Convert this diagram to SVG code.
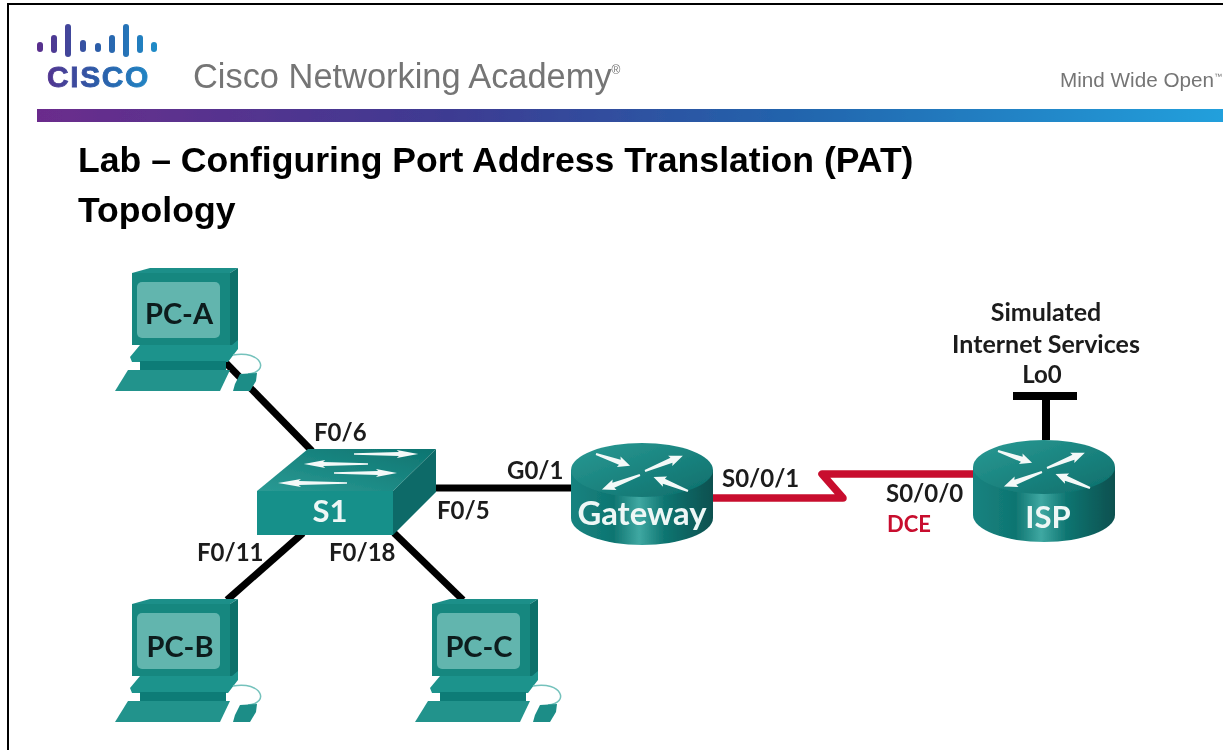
<svg xmlns="http://www.w3.org/2000/svg" xmlns:xlink="http://www.w3.org/1999/xlink" width="1223" height="750" viewBox="0 0 1223 750">
<style>
.hdr{font-family:"Liberation Sans",Arial,sans-serif;fill:#757575}
.title{font-family:"Liberation Sans",Arial,sans-serif;font-weight:700;fill:#000;font-size:35.6px}
.lbl{font-family:Lato,"Open Sans",sans-serif;font-weight:700;font-size:24px;fill:#1a1a1a}
.lbl2{font-size:25px}
.big{font-family:Lato,"Open Sans",sans-serif;font-weight:700;font-size:29px;text-anchor:middle}
.wht{fill:#eef7f6}
.blk{fill:#0a1a1b}
.wire{stroke:#000;stroke-width:7;fill:none}
.bar{fill:url(#logoG)}
</style>
<defs>
<filter id="soft" filterUnits="userSpaceOnUse" x="0" y="0" width="1223" height="750"><feGaussianBlur stdDeviation="0.55"/></filter>
<linearGradient id="band" x1="0" x2="1" y1="0" y2="0">
<stop offset="0" stop-color="#6b2c8c"/><stop offset=".35" stop-color="#3d3b92"/><stop offset=".65" stop-color="#2166ae"/><stop offset="1" stop-color="#22a0dc"/>
</linearGradient>
<linearGradient id="logoG" gradientUnits="userSpaceOnUse" x1="37" x2="157" y1="0" y2="0">
<stop offset="0" stop-color="#5a2d8c"/><stop offset=".5" stop-color="#2c5ca8"/><stop offset="1" stop-color="#1f8cc8"/>
</linearGradient>
<linearGradient id="rBody" x1="0" x2="1" y1="0" y2="0">
<stop offset="0" stop-color="#168380"/><stop offset=".3" stop-color="#0f7571"/><stop offset=".48" stop-color="#3fa8a2"/><stop offset=".66" stop-color="#0f7571"/><stop offset="1" stop-color="#08504f"/>
</linearGradient>
<linearGradient id="rTop" x1="0" x2="1" y1="0" y2="1">
<stop offset="0" stop-color="#2a9a94"/><stop offset="1" stop-color="#0c6e6b"/>
</linearGradient>
<linearGradient id="sTop" x1="0" x2="1" y1="1" y2="0">
<stop offset="0" stop-color="#2a9a94"/><stop offset="1" stop-color="#0c7470"/>
</linearGradient>
<path id="arrow" d="M0 -1.2L42 -3.2L40 -6.5L60 0L40 6.5L42 3.2L0 1.2Z" fill="#f4f9f8"/>
<g id="pc">
<path d="M132 273L150 268H238L230 273Z" fill="#1d8f89"/>
<path d="M230 273L238 268V342L230 348Z" fill="#0c6f6b"/>
<rect x="132" y="273" width="98" height="72" fill="#17877f"/>
<rect x="137" y="282" width="83" height="56" rx="5" fill="#62b5ae"/>
<path d="M140 345H232L238 340V349L228 362H132L130 357Z" fill="#1f938c"/>
<rect x="140" y="361" width="86" height="10" fill="#117c77"/>
<path d="M128 370H230L220 391H115Z" fill="#21938c"/>
<path d="M233 355C262 350 270 372 248 374" fill="none" stroke="#74c2bc" stroke-width="1.5"/>
<path d="M240 374L257 373L256 381L250 391L233 391L235 384Z" fill="#1b8d87"/>
</g>
<g id="router">
<path d="M0 27V75A71 27 0 0 0 142 75V27Z" fill="url(#rBody)"/>
<ellipse cx="71" cy="27" rx="71" ry="27" fill="url(#rTop)"/>
<use href="#arrow" xlink:href="#arrow" transform="translate(25 11) rotate(19) scale(.6 .85)"/>
<use href="#arrow" xlink:href="#arrow" transform="translate(74 28) rotate(-22) scale(.68 .85)"/>
<use href="#arrow" xlink:href="#arrow" transform="translate(69 32) rotate(159) scale(.68 .85)"/>
<use href="#arrow" xlink:href="#arrow" transform="translate(117 48) rotate(-158) scale(.62 .85)"/>
</g>
</defs>
<g filter="url(#soft)">
<g id="frame"><path d="M8 750V4H1223" fill="none" stroke="#000" stroke-width="2"/></g>
<g id="header">
<g class="bar">
<rect x="37" y="42" width="6" height="10" rx="3"/><rect x="51" y="35" width="6" height="18" rx="3"/><rect x="65" y="24" width="6" height="33" rx="3"/><rect x="80" y="40" width="6" height="12" rx="3"/><rect x="95" y="43" width="6" height="9" rx="3"/><rect x="109" y="35" width="6" height="18" rx="3"/><rect x="123" y="24" width="6" height="33" rx="3"/><rect x="137" y="35" width="6" height="18" rx="3"/><rect x="151" y="42" width="6" height="10" rx="3"/>
</g>
<text x="47" y="87" font-family="'Liberation Sans',Arial,sans-serif" font-weight="700" font-size="30" letter-spacing="1.6" stroke="url(#logoG)" stroke-width=".8" fill="url(#logoG)">CISCO</text>
<text class="hdr" x="193" y="88" font-size="34.4">Cisco Networking Academy<tspan font-size="12" dy="-14">®</tspan></text>
<text class="hdr" x="1060" y="87" font-size="20.7">Mind Wide Open<tspan font-size="8" dy="-8">™</tspan></text>
<rect x="37" y="109" width="1186" height="13" fill="url(#band)"/>
<text class="title" x="78" y="172">Lab – Configuring Port Address Translation (PAT)</text>
<text class="title" x="78" y="222">Topology</text>
</g>
<g id="connectors">
<path class="wire" d="M225 362L312 451"/>
<path class="wire" d="M303 533L227 600"/>
<path class="wire" d="M394 533L463 600"/>
<path class="wire" d="M430 488H575"/>
<path d="M712 498H843L822 474H975" fill="none" stroke="#c8102e" stroke-width="7.5" stroke-linejoin="round"/>
<path d="M1046 440V396M1013 396H1077" fill="none" stroke="#000" stroke-width="8"/>
</g>
<g id="labels">
<text class="lbl" x="314" y="441">F0/6</text>
<text class="lbl" x="507" y="479">G0/1</text>
<text class="lbl" x="437" y="519">F0/5</text>
<text class="lbl" x="197" y="561">F0/11</text>
<text class="lbl" x="329" y="561">F0/18</text>
<text class="lbl" x="722" y="487">S0/0/1</text>
<text class="lbl" x="886" y="502">S0/0/0</text>
<text class="lbl" x="887" y="532" style="fill:#c8102e;font-size:22px">DCE</text>
<text class="lbl lbl2" x="1046" y="321" text-anchor="middle">Simulated</text>
<text class="lbl lbl2" x="1046" y="353" text-anchor="middle">Internet Services</text>
<text class="lbl" x="1042" y="383" text-anchor="middle">Lo0</text>
</g>
<g id="pc-a"><use xlink:href="#pc" href="#pc"/><text class="big blk" x="179" y="324">PC-A</text></g>
<g id="pc-b"><use xlink:href="#pc" href="#pc" y="331"/><text class="big blk" x="180" y="657">PC-B</text></g>
<g id="pc-c"><use xlink:href="#pc" href="#pc" x="300" y="331"/><text class="big blk" x="479" y="657">PC-C</text></g>
<g id="s1">
<path d="M257 491L308 449H436L393 491Z" fill="url(#sTop)"/>
<path d="M393 491L436 449V492L393 535Z" fill="#0b6b67"/>
<rect x="257" y="491" width="136" height="44" fill="#17908a"/>
<use href="#arrow" xlink:href="#arrow" transform="translate(354 454) scale(1.07 .6)"/>
<use href="#arrow" xlink:href="#arrow" transform="translate(368 464) rotate(180) scale(1.07 .6)"/>
<use href="#arrow" xlink:href="#arrow" transform="translate(334 473) scale(1.05 .6)"/>
<use href="#arrow" xlink:href="#arrow" transform="translate(347 483) rotate(180) scale(1.15 .6)"/>
<text class="big wht" x="330" y="522" style="font-size:31px">S1</text>
</g>
<g id="gateway"><use xlink:href="#router" href="#router" x="571" y="443"/><text class="big wht" x="642" y="525" style="font-size:32.8px">Gateway</text></g>
<g id="isp"><use xlink:href="#router" href="#router" x="973" y="440"/><text class="big wht" x="1048" y="528" style="font-size:31px">ISP</text></g>
</g>
</svg>
